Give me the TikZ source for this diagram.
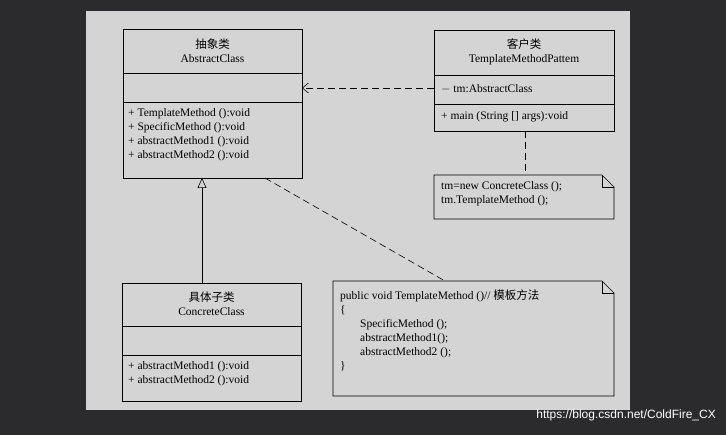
\documentclass[tikz,border=0pt]{standalone}
\usepackage{fontspec}
\setmainfont{Liberation Serif}
\setsansfont{Liberation Sans}
\newfontfamily\cjk{Noto Sans CJK SC}
\usetikzlibrary{arrows.meta}
\usetikzlibrary{positioning}
\definecolor{pagebg}{HTML}{2B2B2E}
\definecolor{panel}{HTML}{D4D4D4}
\tikzset{box/.style={draw=black,semithick},
         line/.style={draw=black,semithick},
         txt/.style={inner sep=0pt,font=\fontsize{11.5}{14}\selectfont},
         dashline/.style={draw=black,semithick,dash pattern=on 7pt off 4pt}}

\begin{document}
\begin{tikzpicture}[x=1pt,y=-1pt]
\fill[pagebg] (0,0) rectangle (726,435);
\fill[panel] (86,11) rectangle (630,410);
\useasboundingbox (0,0) rectangle (726,435);

% abstract class
\draw[box] (123,29) rectangle (302,178);
\draw[line] (123,73) -- (302,73);
\draw[line] (123,102) -- (302,102);
\node[txt,align=center] (abs) at (212.5,51) {{\cjk 抽象类}\\AbstractClass};
\node[txt,anchor=north west,align=left] (absm) at (128,108)
  {+ TemplateMethod ():void\\+ SpecificMethod ():void\\+ abstractMethod1 ():void\\+ abstractMethod2 ():void};

% client
\draw[box] (434,30) rectangle (614,131);
\draw[line] (434,75) -- (614,75);
\draw[line] (434,104) -- (614,104);
\node[txt,align=center] (cli) at (524,52) {{\cjk 客户类}\\TemplateMethodPattem};
\node[txt,anchor=west] (clia) at (441,89) {$-$ tm:AbstractClass};
\node[txt,anchor=west] (clim) at (441,117) {+ main (String [] args):void};

% note 1
\draw[box] (434,175) -- (602,175) -- (614,187) -- (614,219) -- (434,219) -- cycle;
\draw[line] (602,175) -- (602,187) -- (614,187);
\node[txt,anchor=north west,align=left] (n1) at (441,181) {tm=new ConcreteClass ();\\tm.TemplateMethod ();};

% concrete class
\draw[box] (122,283) rectangle (301,401);
\draw[line] (122,326) -- (301,326);
\draw[line] (122,355) -- (301,355);
\node[txt,align=center] (con) at (211.5,304) {{\cjk 具体子类}\\ConcreteClass};
\node[txt,anchor=north west,align=left] (conm) at (128,361)
  {+ abstractMethod1 ():void\\+ abstractMethod2 ():void};

% note 2
\draw[box] (333,281) -- (602,281) -- (614,293) -- (614,396) -- (333,396) -- cycle;
\draw[line] (602,281) -- (602,293) -- (614,293);
\node[txt,anchor=north west,align=left] (n2) at (340,290)
  {public void TemplateMethod ()// {\cjk 模板方法}\\\{\\\hspace{20pt}SpecificMethod ();\\\hspace{20pt}abstractMethod1();\\\hspace{20pt}abstractMethod2 ();\\\}};

% connectors
\coordinate (absR) at (302,88);
\coordinate (cliL) at (434,88);
\draw[dashline,-{Straight Barb[length=6pt,width=10pt]}] (cliL) -- (absR);
\draw[dashline] (525,131) -- (525,175);
\draw[dashline] (265,178) -- (445,281);
\draw[line,-{Triangle[open,length=10pt,width=9pt,fill=panel]}] (202,283) -- (202,178);

\node[anchor=east,text=white,font=\sffamily\fontsize{12}{14}\selectfont,inner sep=0pt] (wm) at (716,415) {https://blog.csdn.net/ColdFire\_CX};
\end{tikzpicture}
\end{document}
